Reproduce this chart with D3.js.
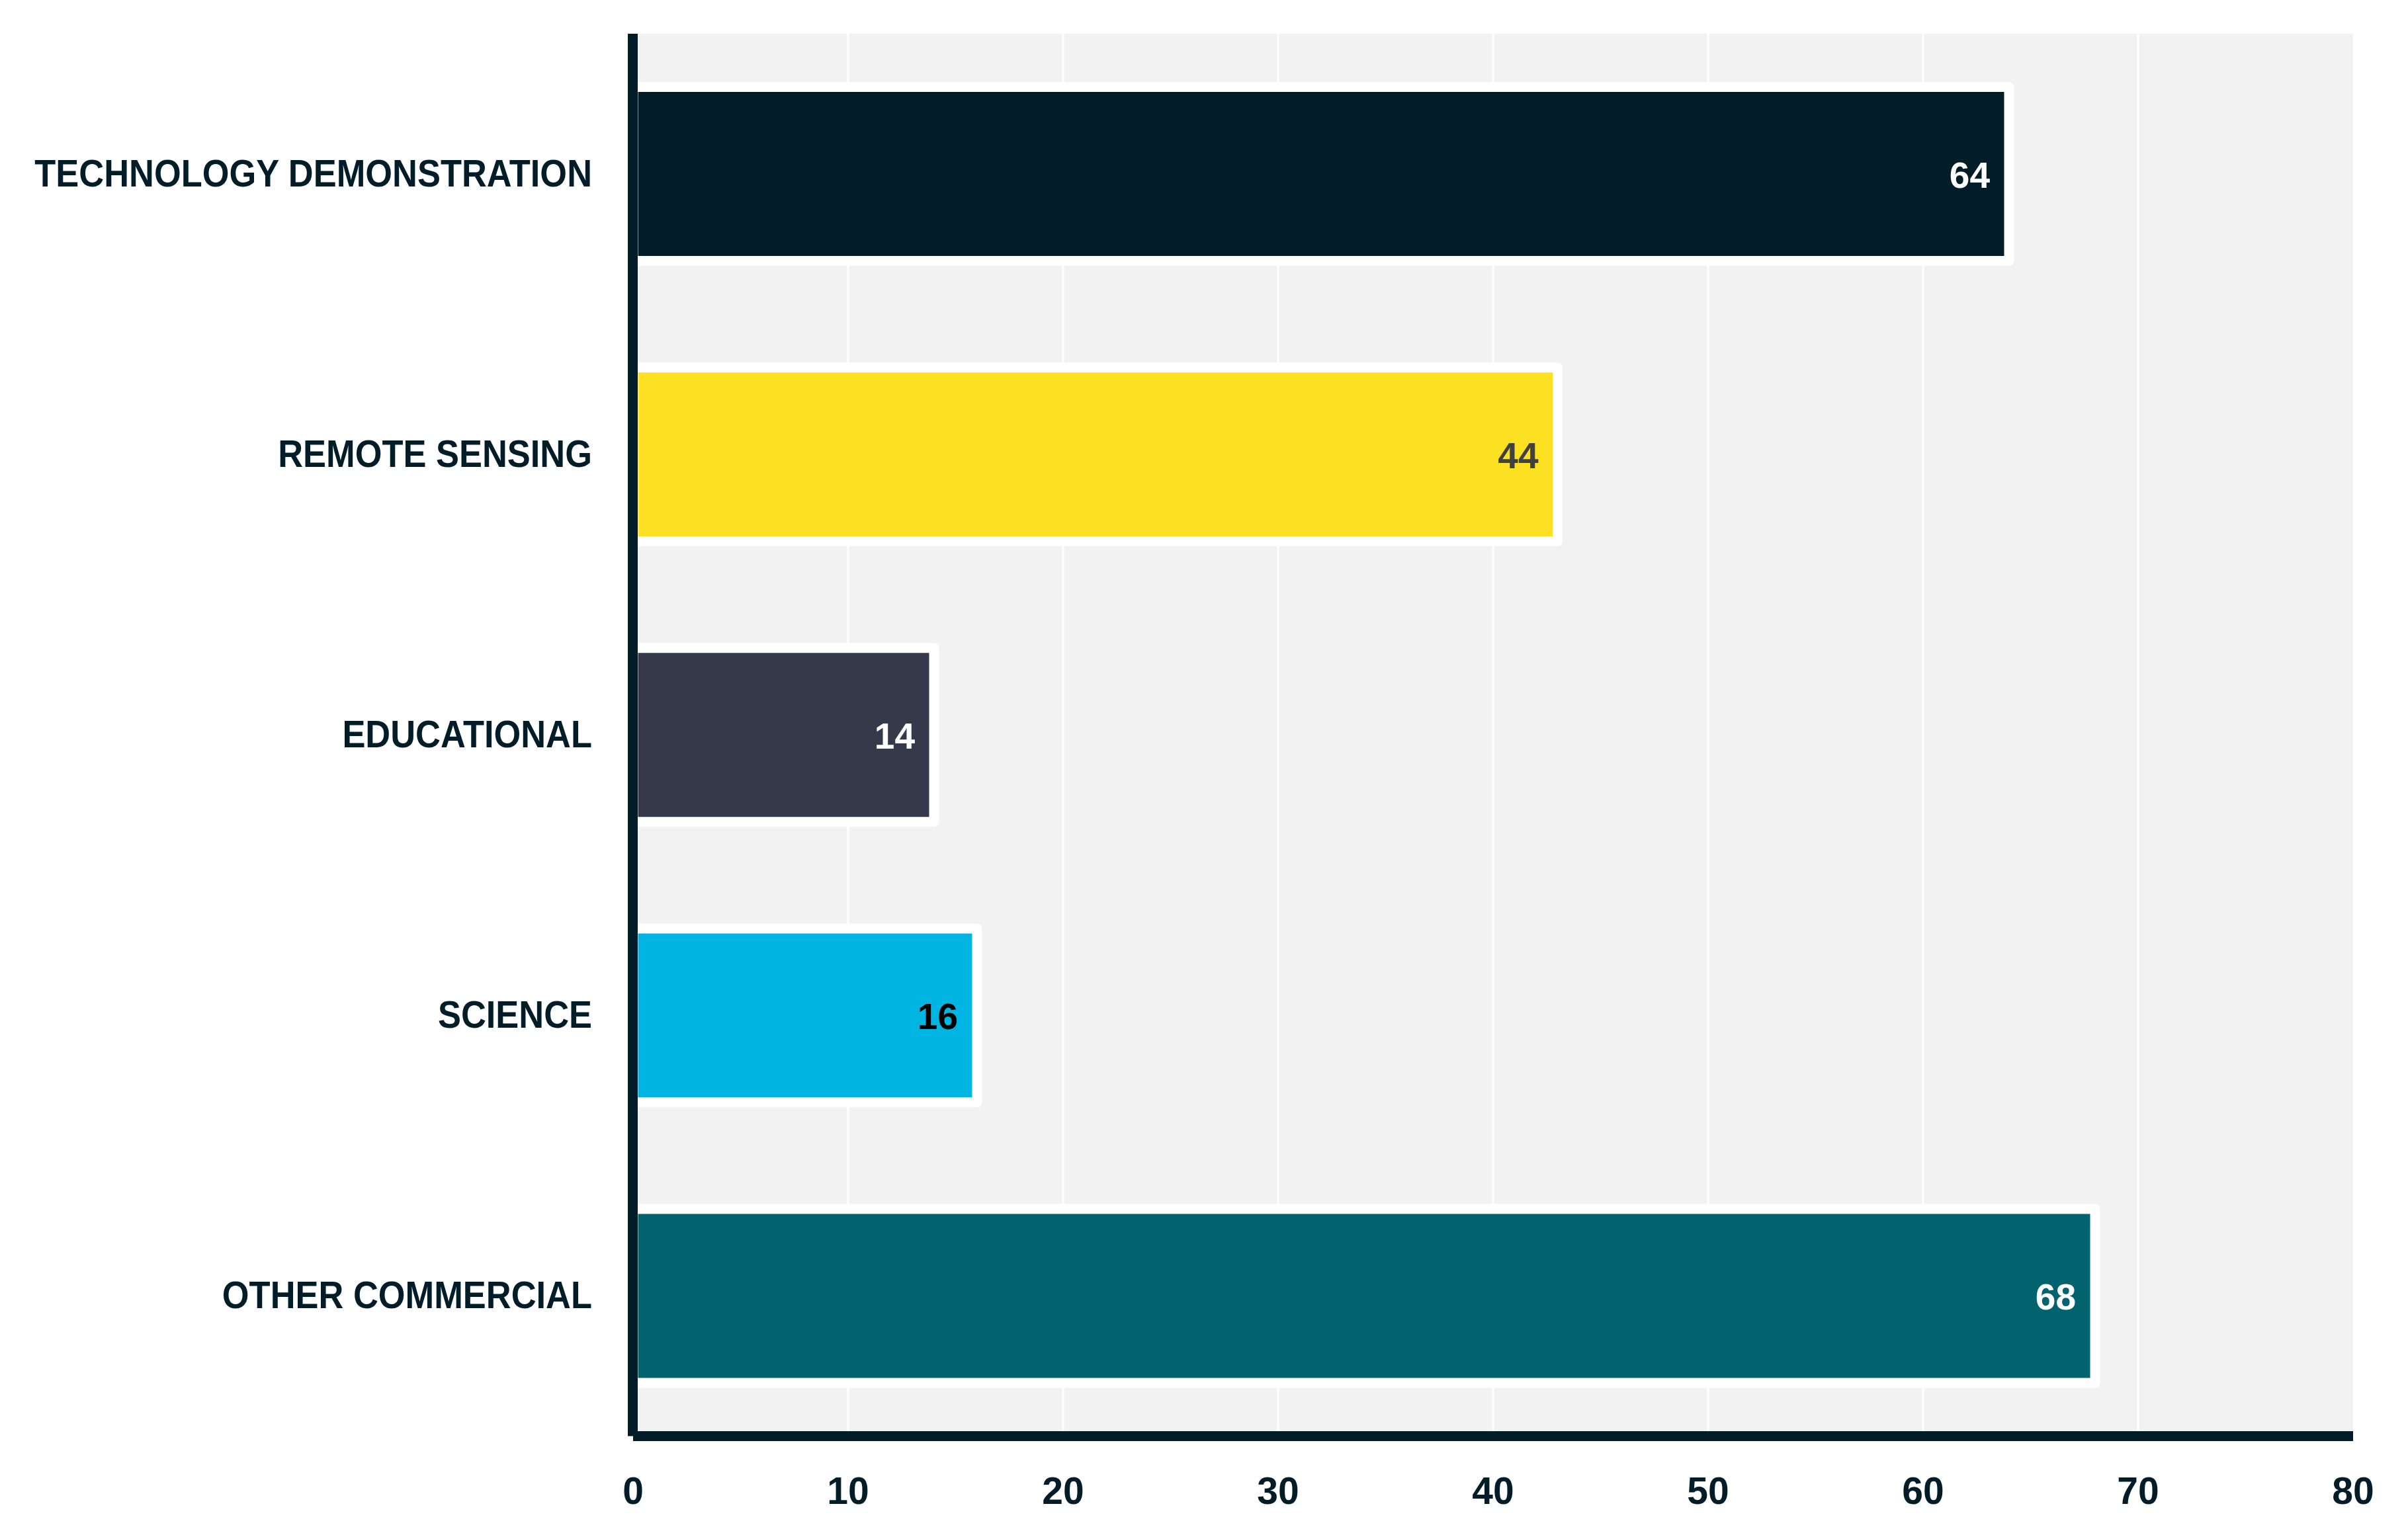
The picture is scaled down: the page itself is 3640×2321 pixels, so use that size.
<!DOCTYPE html>
<html>
<head>
<meta charset="utf-8">
<script src="https://cdn.jsdelivr.net/npm/d3@7"></script>
<style>
  html, body { margin: 0; padding: 0; background: #fff; }
  svg { display: block; }
</style>
</head>
<body>
<div id="chart"></div>
<script>
// ── Data ───────────────────────────────────────────────────────────────

const categories = ["TECHNOLOGY DEMONSTRATION", "REMOTE SENSING", "EDUCATIONAL", "SCIENCE", "OTHER COMMERCIAL"];
// bar lengths as drawn (the remote sensing bar stops at 43 though its label says 44)
const values = [64, 43, 14, 16, 68];
const valueLabels = ["64", "44", "14", "16", "68"];
const barColors = ["#021c28", "#fbe122", "#343a4a", "#00b5e2", "#02636f"];
const valueColors = ["#ffffff", "#404040", "#ffffff", "#000000", "#ffffff"];
const xTicks = [0, 10, 20, 30, 40, 50, 60, 70, 80];

// ── Setup ──────────────────────────────────────────────────────────────

const W = 3640, H = 2321;
const M = { top: 51, right: 83, bottom: 149.5, left: 957 };
const DARK = "#021c28";
const FONT = "'Liberation Sans', Arial, sans-serif";

const svg = d3.select("#chart").append("svg").attr("width", W).attr("height", H);

const x = d3.scaleLinear().domain([0, 80]).range([M.left, W - M.right]);
const y = d3.scaleBand().domain(categories).range([M.top, H - M.bottom])
  .paddingInner(0.38).paddingOuter(0.19);

// ── Plot bg + grid ─────────────────────────────────────────────────────

svg.append("rect")
  .attr("x", x(0)).attr("y", M.top)
  .attr("width", x(80) - x(0)).attr("height", H - M.bottom - M.top)
  .attr("fill", "#f2f2f2");

svg.append("g").selectAll("line").data(xTicks.slice(1, -1)).join("line")
  .attr("x1", d => x(d)).attr("x2", d => x(d))
  .attr("y1", M.top).attr("y2", H - M.bottom)
  .attr("stroke", "#ffffff").attr("stroke-width", 3);

// ── Bars ───────────────────────────────────────────────────────────────

const rows = categories.map((c, i) => ({
  c, v: values[i], lab: valueLabels[i], fill: barColors[i], tc: valueColors[i]
}));

svg.append("g").selectAll("rect").data(rows).join("rect")
  .attr("x", x(0))
  .attr("y", d => y(d.c))
  .attr("width", d => x(d.v) - x(0))
  .attr("height", y.bandwidth())
  .attr("fill", d => d.fill)
  .attr("stroke", "#ffffff").attr("stroke-width", 15)
  .attr("stroke-linejoin", "round");

svg.append("g").selectAll("text").data(rows).join("text")
  .attr("x", d => x(d.v) - 29)
  .attr("y", d => y(d.c) + y.bandwidth() / 2 + 1)
  .attr("dy", "0.36em")
  .attr("text-anchor", "end")
  .attr("font-family", FONT).attr("font-weight", 700).attr("font-size", 55)
  .attr("fill", d => d.tc)
  .text(d => d.lab);

// ── Axes ───────────────────────────────────────────────────────────────

svg.append("line")
  .attr("x1", x(0) - 0.5).attr("x2", x(0) - 0.5)
  .attr("y1", M.top).attr("y2", H - M.bottom)
  .attr("stroke", DARK).attr("stroke-width", 15);

svg.append("line")
  .attr("x1", x(0)).attr("x2", x(80))
  .attr("y1", H - M.bottom).attr("y2", H - M.bottom)
  .attr("stroke", DARK).attr("stroke-width", 15);

// category labels, squeezed a bit to get the narrow look of the original face
svg.append("g").selectAll("text").data(categories).join("text")
  .attr("transform", d => `translate(${x(0) - 62},${y(d) + y.bandwidth() / 2 - 2}) scale(0.92,1)`)
  .attr("dy", "0.36em")
  .attr("text-anchor", "end")
  .attr("font-family", FONT).attr("font-weight", 700).attr("font-size", 57)
  .attr("fill", DARK)
  .text(d => d);

svg.append("g").selectAll("text").data(xTicks).join("text")
  .attr("x", d => x(d))
  .attr("y", 2274)
  .attr("text-anchor", "middle")
  .attr("font-family", FONT).attr("font-weight", 700).attr("font-size", 57)
  .attr("fill", DARK)
  .text(d => d);
</script>
</body>
</html>
